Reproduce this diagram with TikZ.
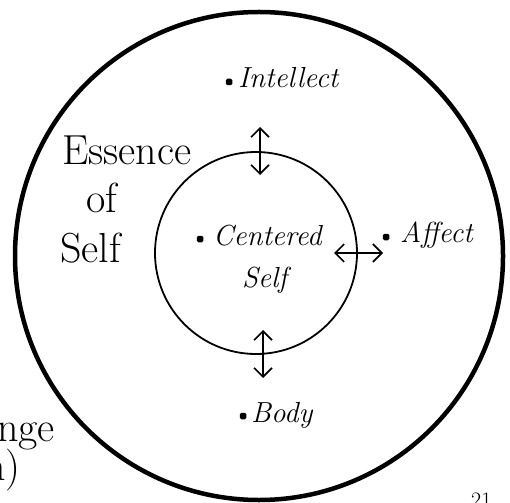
\documentclass[tikz,border=0pt]{standalone}
\usepackage{tikz}
\usetikzlibrary{arrows.meta}

\begin{document}
\begin{tikzpicture}[x=1pt,y=-1pt,
  lbl/.style={font=\fontsize{29}{32}\selectfont\itshape,inner sep=0pt,anchor=base west},
  big/.style={font=\fontsize{42}{46}\selectfont,inner sep=0pt,anchor=base west},
  spot/.style={rectangle,rounded corners=1.5pt,fill,inner sep=0pt,minimum size=6.5pt},
  twoway/.style={line width=1.6pt,{Straight Barb[length=9pt,width=18pt]}-{Straight Barb[length=9pt,width=18pt]}}]
\useasboundingbox (0,0) rectangle (510,502);
% rings
\coordinate (outer) at (259,256);
\coordinate (inner) at (256,253);
\draw[line width=4.5pt] (outer) circle[radius=244];
\draw[line width=1.8pt] (inner) circle[radius=101];
% labels
\node[big] (essence) at (62,165) {Essence};
\node[big] (of) at (86,213) {of};
\node[big] (self) at (60,262) {Self};
\node[spot] (intellectdot) at (229,82) {};
\node[lbl] (intellect) at (238,88) {Intellect};
\node[spot] (centereddot) at (200,239) {};
\node[lbl] (centered) at (213,245) {Centered};
\node[lbl] (centeredself) at (242,287) {Self};
\node[spot] (affectdot) at (386,237) {};
\node[lbl] (affect) at (400,242) {Affect};
\node[spot] (bodydot) at (243,416) {};
\node[lbl] (body) at (251,422) {Body};
\node[big,anchor=base east] (change) at (55,441) {nge};
\node[big,anchor=base east] (paren) at (21,480) {n)};
\node[font=\fontsize{22}{24}\selectfont,inner sep=0pt,anchor=north west] (page) at (471,493) {21};
% two-way arrows across the inner ring
\coordinate (up1) at (260,127); \coordinate (up2) at (260,175);
\coordinate (rt1) at (334,253); \coordinate (rt2) at (383,253);
\coordinate (dn1) at (263,330); \coordinate (dn2) at (263,378);
\draw[twoway] (up1) -- (up2);
\draw[twoway] (rt1) -- (rt2);
\draw[twoway] (dn1) -- (dn2);
\end{tikzpicture}
\end{document}
